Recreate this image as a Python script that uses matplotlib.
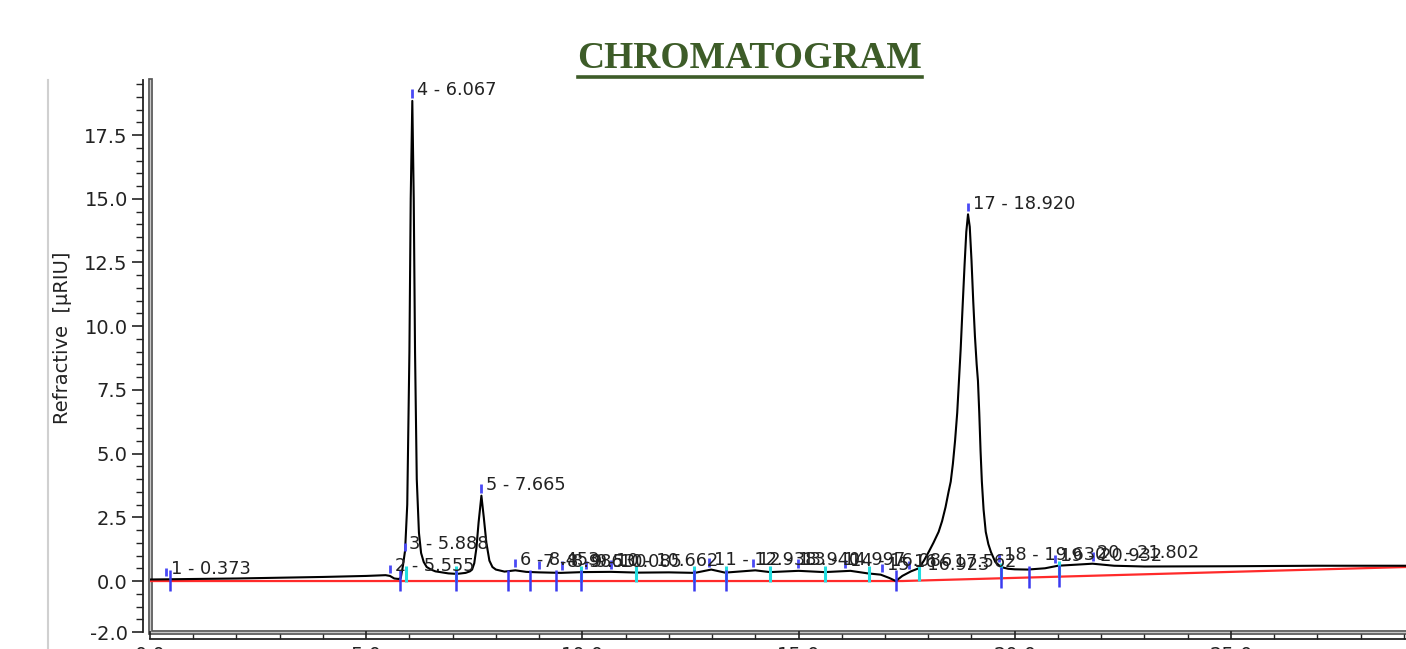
import numpy as np
import matplotlib
matplotlib.use("Agg")
import matplotlib.pyplot as plt
from matplotlib.lines import Line2D
from matplotlib.ticker import FixedLocator, FixedFormatter, MultipleLocator

# ---------------- data ----------------
# detector signal (time in min, signal in µRIU)
sig_t = [0.0, 1.0, 2.0, 3.0, 4.0, 5.0, 5.45, 5.55, 5.65, 5.75, 5.8, 5.85, 5.9,
         5.95, 6.0, 6.03, 6.067, 6.1, 6.13, 6.17, 6.22, 6.27, 6.33, 6.4, 6.5,
         6.6, 6.9, 7.1, 7.3, 7.4, 7.45, 7.5, 7.55, 7.6, 7.665, 7.72, 7.78,
         7.85, 7.92, 8.0, 8.2, 8.45, 8.7, 9.0, 9.5, 10.0, 10.66, 11.3, 12.0,
         12.6, 12.98, 13.3, 14.0, 14.34, 15.0, 15.6, 16.2, 16.6, 16.9, 17.1,
         17.25, 17.4, 17.6, 17.78, 17.9, 18.01, 18.12, 18.24, 18.32, 18.4,
         18.47, 18.52, 18.57, 18.62, 18.67, 18.71, 18.75, 18.79, 18.84, 18.88,
         18.92, 18.96, 19.0, 19.04, 19.08, 19.12, 19.15, 19.18, 19.21, 19.24,
         19.28, 19.33, 19.39, 19.45, 19.55, 19.68, 19.85, 20.0, 20.3, 20.7,
         21.0, 21.5, 21.8, 22.3, 23.0, 25.0, 27.0, 29.05]
sig_v = [0.06, 0.08, 0.10, 0.13, 0.16, 0.20, 0.23, 0.20, 0.10, 0.08, 0.12, 0.6, 1.2,
         3.0, 9.0, 15.0, 18.84, 15.0, 9.0, 4.0, 1.9, 1.1, 0.75, 0.55, 0.45,
         0.38, 0.30, 0.28, 0.32, 0.38, 0.45, 0.7, 1.3, 2.3, 3.35, 2.5, 1.5,
         0.8, 0.55, 0.45, 0.37, 0.42, 0.36, 0.34, 0.32, 0.35, 0.36, 0.33, 0.34,
         0.32, 0.45, 0.33, 0.42, 0.35, 0.40, 0.35, 0.40, 0.30, 0.25, 0.12,
         0.0, 0.2, 0.38, 0.5, 0.8, 1.14, 1.5, 1.93, 2.35, 2.9,
         3.5, 3.9, 4.6, 5.5, 6.6, 7.85, 9.1, 10.6, 12.4, 13.7,
         14.39, 13.9, 12.6, 11.0, 9.6, 8.5, 7.85, 6.6, 5.1, 3.9,
         2.8, 1.93, 1.45, 1.14, 0.75, 0.55, 0.48, 0.46, 0.45, 0.5,
         0.6, 0.65, 0.68, 0.6, 0.57, 0.58, 0.6, 0.6]

# integration baseline (red)
base_t = [0.0, 17.4, 29.05]
base_v = [0.0, 0.0, 0.55]

# peak labels
peak_no = [1, 2, 3, 4, 5, 6, 7, 8, 9, 10, 11, 12, 13, 14, 15, 16, 17, 18, 19, 20]
peak_rt = [0.373, 5.555, 5.888, 6.067, 7.665, 8.453, 8.986, 9.530, 10.085, 10.662,
           12.938, 13.940, 14.997, 16.086, 16.923, 17.562, 18.920, 19.630, 20.932, 21.802]

# integration marks (start = blue, end = cyan)
mark_start = [0.46, 5.79, 7.07, 8.27, 8.80, 9.38, 9.98, 12.59, 13.33, 17.25, 19.68, 20.32, 21.02]
mark_end = [5.92, 7.07, 9.98, 11.25, 12.59, 13.33, 14.34, 15.61, 16.63, 17.78, 19.68, 21.02]

y_ticks = [-2.0, 0.0, 2.5, 5.0, 7.5, 10.0, 12.5, 15.0, 17.5]
y_tick_labels = ["-2.0", "0.0", "2.5", "5.0", "7.5", "10.0", "12.5", "15.0", "17.5"]
x_ticks = [0, 5, 10, 15, 20, 25]
x_tick_labels = ["0.0", "5.0", "10.0", "15.0", "20.0", "25.0"]

# ---------------- figure ----------------
W, H = 1406, 649
fig = plt.figure(figsize=(W / 100, H / 100), dpi=100)
plt.rcParams['font.family'] = ['DejaVu Sans']

left_px, bottom_px, top_px = 150, 632, 80
ax = fig.add_axes([left_px / W, 1 - bottom_px / H, 1 - left_px / W,
                   (bottom_px - top_px) / H])
ax.set_xlim(0, 29.05)
ax.set_ylim(-2.0, 19.66)

# signal and baseline
ax.plot(base_t, base_v, color='#ff2a2a', lw=1.6, zorder=2)
ax.plot(sig_t, sig_v, color='black', lw=1.5, zorder=3)

# integration marks
mb = np.interp(mark_start, base_t, base_v)
me = np.interp(mark_end, base_t, base_v)
ax.vlines(mark_end, me - 0.02, me + 0.6, color='#22dde0', lw=2.2, zorder=4)
ax.vlines(mark_start, mb - 0.4, mb + 0.45, color='#3b3bf0', lw=1.8, zorder=5)

# apex markers and labels
apex = np.interp(peak_rt, sig_t, sig_v)
ax.vlines(peak_rt, apex + 0.12, apex + 0.45, color='#4a4af5', lw=2.0, zorder=5)
for n, rt, a in zip(peak_no, peak_rt, apex):
    ax.annotate(f"{n} - {rt:.3f}", (rt, a), xytext=(3.5, 7.5),
                textcoords='offset points', ha='left', va='center',
                fontsize=12.8, color='#222222', zorder=6)

# axes styling
for s in ['top', 'right']:
    ax.spines[s].set_visible(False)
ax.spines['left'].set_position(('outward', 5))
ax.spines['bottom'].set_position(('outward', 5))
ax.spines['left'].set_color('#222222')
ax.spines['bottom'].set_color('#222222')
ax.spines['left'].set_linewidth(1.3)
ax.spines['bottom'].set_linewidth(1.3)

ax.yaxis.set_major_locator(FixedLocator(y_ticks))
ax.yaxis.set_major_formatter(FixedFormatter(y_tick_labels))
ax.yaxis.set_minor_locator(MultipleLocator(0.5))
ax.xaxis.set_major_locator(FixedLocator(x_ticks))
ax.xaxis.set_major_formatter(FixedFormatter(x_tick_labels))
ax.xaxis.set_minor_locator(MultipleLocator(1))

ax.tick_params(axis='y', which='major', direction='out', length=8, width=1.2,
               labelsize=14, colors='#222222', pad=3)
ax.tick_params(axis='y', which='minor', direction='out', length=5, width=1.0,
               colors='#222222')
ax.tick_params(axis='x', which='major', direction='in', length=6, width=1.2,
               labelsize=14, colors='#222222', pad=5)
ax.tick_params(axis='x', which='minor', direction='in', length=3.5, width=1.0,
               colors='#222222')

# plot-area frame (double grey line on left and bottom)
for lw, col in [(3.4, '#555555'), (1.0, '#c8c8c8')]:
    ax.plot([0, 0, 1], [1, 0, 0], transform=ax.transAxes, color=col, lw=lw,
            clip_on=False, zorder=1, solid_joinstyle='miter')

# y-axis label
fig.text(62 / W, 1 - 338 / H, "Refractive  [µRIU]", rotation=90,
         ha='center', va='center', fontsize=14, color='#222222')

# outer grey frame line on the left
fig.add_artist(Line2D([48 / W, 48 / W], [0, 1 - 80 / H], transform=fig.transFigure,
                      color='#d0d0d0', lw=1.5))

# title with underline
title_col = '#3d5c28'
fig.text(750 / W, 1 - 59 / H, "CHROMATOGRAM", ha='center', va='center',
         fontsize=27, fontweight='bold', family='Liberation Serif', color=title_col)
fig.add_artist(Line2D([578 / W, 922 / W], [1 - 77 / H, 1 - 77 / H],
                      transform=fig.transFigure, color=title_col, lw=2.6))

fig.savefig("out.png", dpi=100)
